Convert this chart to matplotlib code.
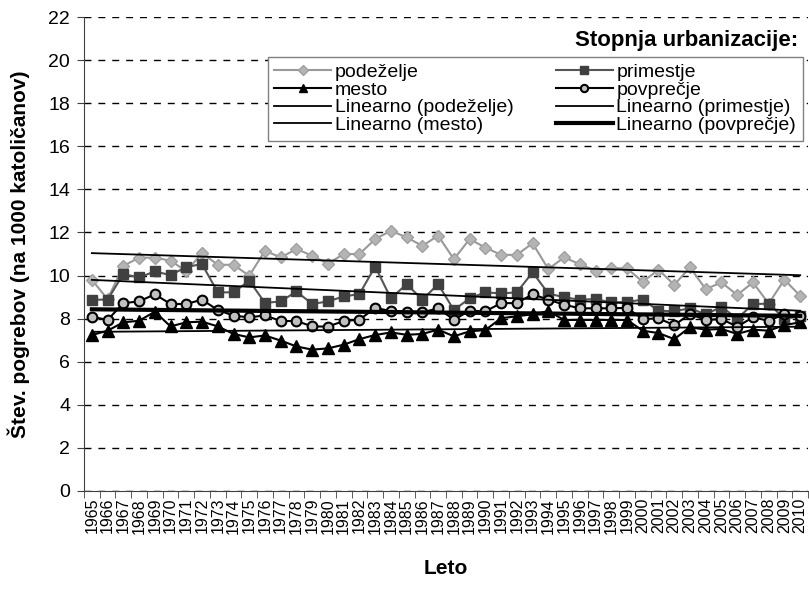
import numpy as np
import matplotlib
matplotlib.use('Agg')
import matplotlib.pyplot as plt

plt.rcParams['font.family'] = ['Liberation Sans', 'DejaVu Sans']

years = list(range(1965, 2011))

# stopnja urbanizacije
podezelje = [9.81, 8.9, 10.45, 10.83, 10.83, 10.69, 10.2, 11.04, 10.5, 10.5,
             9.99, 11.15, 10.84, 11.23, 10.92, 10.55, 11.0, 11.0, 11.69, 12.08,
             11.77, 11.38, 11.85, 10.76, 11.69, 11.3, 10.96, 10.96, 11.5, 10.3,
             10.84, 10.53, 10.22, 10.35, 10.33, 9.71, 10.27, 9.57, 10.38, 9.37,
             9.68, 9.1, 9.68, 8.7, 9.81, 9.06]
primestje = [8.88, 8.88, 10.07, 9.91, 10.19, 10.02, 10.4, 10.53, 9.22, 9.22,
             9.76, 8.73, 8.8, 9.26, 8.68, 8.8, 9.03, 9.14, 10.42, 8.94,
             9.6, 8.88, 9.6, 8.4, 8.94, 9.22, 9.17, 9.22, 10.15, 9.17,
             8.99, 8.88, 8.91, 8.75, 8.78, 8.88, 8.37, 8.34, 8.48, 8.2,
             8.55, 8.0, 8.67, 8.7, 8.0, 8.1]
mesto = [7.24, 7.44, 7.83, 7.9, 8.32, 7.64, 7.83, 7.86, 7.64, 7.29,
         7.13, 7.22, 6.98, 6.71, 6.56, 6.62, 6.79, 7.05, 7.24, 7.36,
         7.25, 7.29, 7.49, 7.18, 7.41, 7.47, 8.02, 8.11, 8.2, 8.35,
         7.94, 7.94, 7.94, 7.94, 7.94, 7.44, 7.33, 7.05, 7.6, 7.49,
         7.52, 7.29, 7.49, 7.44, 7.7, 7.83]
povprecje = [8.09, 7.94, 8.72, 8.8, 9.13, 8.68, 8.68, 8.88, 8.4, 8.14,
             8.06, 8.15, 7.89, 7.89, 7.64, 7.63, 7.89, 7.95, 8.5, 8.35,
             8.32, 8.29, 8.48, 7.95, 8.37, 8.34, 8.72, 8.72, 9.13, 8.88,
             8.65, 8.48, 8.48, 8.48, 8.5, 7.98, 8.01, 7.7, 8.21, 7.94,
             7.98, 7.63, 8.06, 7.9, 8.21, 8.11]

x = np.arange(len(years))

fig = plt.figure(figsize=(8.09, 5.89), dpi=100)
ax = fig.add_axes([0.1038, 0.1664, 0.8950, 0.8047])

l_pod, = ax.plot(x, podezelje, color='#999999', lw=1.5, marker='D', ms=6.5,
                 mfc='#B4B4B4', mec='#A0A0A0', label='podeželje', zorder=3)
l_prim, = ax.plot(x, primestje, color='#555555', lw=1.5, marker='s', ms=7,
                  mfc='#404040', mec='#404040', label='primestje', zorder=4)
l_mes, = ax.plot(x, mesto, color='black', lw=1.5, marker='^', ms=8,
                 mfc='black', mec='black', label='mesto', zorder=4)
l_pov, = ax.plot(x, povprecje, color='black', lw=1.5, marker='o', ms=7,
                 mfc='#C0C0C0', mec='black', mew=1.5, label='povprečje', zorder=5)

# linear trends
trends = []
for data, name, w in [(podezelje, 'podeželje', 1.3), (primestje, 'primestje', 1.3),
                      (mesto, 'mesto', 1.3), (povprecje, 'povprečje', 3)]:
    k, n = np.polyfit(x, data, 1)
    t, = ax.plot(x, k * x + n, color='black', lw=w, label='Linearno (%s)' % name, zorder=6)
    trends.append(t)

ax.set_xlim(-0.5, len(years) - 0.5)
ax.set_ylim(0, 22)
ax.set_yticks(np.arange(0, 23, 2))
ax.set_xticks(x)
ax.set_xticklabels([str(y) for y in years], rotation=90, fontsize=11.5)
ax.set_xticks(np.arange(-0.5, len(years), 1), minor=True)
ax.tick_params(axis='x', which='major', length=0, pad=5)
ax.tick_params(axis='x', which='minor', length=5, direction='out', color='#404040')
ax.tick_params(axis='y', labelsize=14, length=5, direction='out', color='#404040', pad=5)

ax.yaxis.grid(True, linestyle=(0, (5, 5)), color='black', lw=1)
ax.set_axisbelow(True)
for s in ['top', 'right']:
    ax.spines[s].set_visible(False)
ax.spines['left'].set_color('#404040')
ax.spines['bottom'].set_color('#404040')

ax.set_ylabel('Štev. pogrebov (na 1000 katoličanov)', fontsize=15, fontweight='bold', labelpad=13)
ax.set_xlabel('Leto', fontsize=15, fontweight='bold', labelpad=18)

handles = [l_pod, l_mes, trends[0], trends[2], l_prim, l_pov, trends[1], trends[3]]
leg = ax.legend(handles=handles, ncol=2, loc='upper right', bbox_to_anchor=(0.993, 0.916),
                prop={'size': 14}, frameon=True, fancybox=False, edgecolor='#808080',
                framealpha=1, labelspacing=0, handlelength=2.9, handletextpad=0.2,
                columnspacing=2.2, borderpad=0.35, borderaxespad=0, markerscale=0.75)
leg.get_frame().set_linewidth(1)
ax.text(0.987, 0.951, 'Stopnja urbanizacije:', transform=ax.transAxes, ha='right',
        va='center', fontsize=16, fontweight='bold')

fig.savefig('out.png', dpi=100)
